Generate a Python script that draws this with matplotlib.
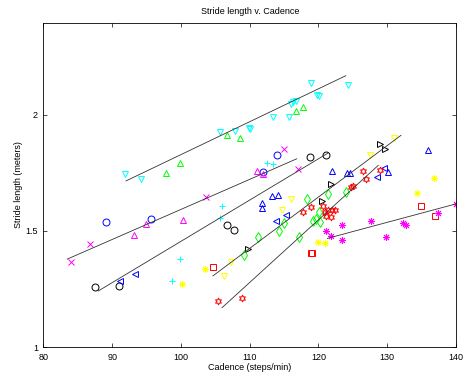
import numpy as np
import matplotlib
matplotlib.use('Agg')
import matplotlib.pyplot as plt

plt.rcParams['font.family'] = ['Liberation Sans', 'DejaVu Sans']

# each group: (color, marker, x values, y values)
cyan_v_x = [91.9, 94.18, 105.63, 107.81, 109.93, 110.04, 113.45, 115.68, 116.33, 116.73, 116.0, 118.91, 124.25, 119.74, 120.12]
cyan_v_y = [1.743, 1.723, 1.927, 1.928, 1.944, 1.937, 1.991, 1.991, 2.055, 2.058, 2.046, 2.135, 2.127, 2.084, 2.081]

green_up_x = [97.75, 99.85, 106.69, 108.54, 116.70, 117.82]
green_up_y = [1.750, 1.793, 1.911, 1.899, 2.015, 2.034]

magenta_x_x = [83.96, 86.81, 103.68, 115.05, 117.02]
magenta_x_y = [1.365, 1.444, 1.645, 1.851, 1.765]

blue_o_x = [89.05, 95.59, 111.97, 113.96]
blue_o_y = [1.537, 1.550, 1.755, 1.828]

magenta_up_x = [93.21, 94.91, 100.33, 111.10, 111.97]
magenta_up_y = [1.483, 1.530, 1.547, 1.756, 1.743]

black_o_x = [87.49, 90.94, 106.73, 107.71, 118.76, 121.05]
black_o_y = [1.259, 1.263, 1.526, 1.504, 1.816, 1.828]

blue_left_x = [91.17, 93.31, 113.86, 115.27, 128.55, 129.53]
blue_left_y = [1.286, 1.316, 1.544, 1.570, 1.733, 1.771]

cyan_plus_x = [98.73, 99.90, 105.63, 105.92, 112.47, 113.34]
cyan_plus_y = [1.285, 1.379, 1.557, 1.607, 1.791, 1.786]

yellow_star_x = [100.17, 103.53, 119.97, 120.90, 134.40, 136.87]
yellow_star_y = [1.270, 1.338, 1.454, 1.448, 1.663, 1.729]

yellow_v_x = [106.25, 107.23, 114.76, 116.0, 127.53, 130.98]
yellow_v_y = [1.305, 1.368, 1.592, 1.639, 1.828, 1.899]

black_right_x = [109.70, 120.51, 121.85, 128.95, 129.67]
black_right_y = [1.421, 1.628, 1.700, 1.874, 1.854]

blue_up_x = [111.81, 111.81, 113.24, 114.04, 121.96, 124.22, 124.63, 130.07, 135.97]
blue_up_y = [1.622, 1.599, 1.652, 1.654, 1.759, 1.750, 1.750, 1.753, 1.849]

green_d_x = [109.21, 111.20, 114.33, 115.05, 117.21, 118.40, 119.24, 119.59, 120.22, 120.12, 121.43, 123.96]
green_d_y = [1.397, 1.475, 1.501, 1.534, 1.473, 1.639, 1.543, 1.551, 1.540, 1.583, 1.657, 1.667]

red_hex_x = [105.43, 108.87, 117.79, 118.91, 120.70, 120.95, 121.43, 121.96, 122.47, 121.16, 121.89, 124.68, 125.09, 126.47, 126.91, 128.95]
red_hex_y = [1.198, 1.213, 1.581, 1.602, 1.609, 1.583, 1.589, 1.589, 1.590, 1.566, 1.562, 1.691, 1.693, 1.758, 1.723, 1.762]

red_sq_x = [104.61, 118.84, 119.05, 134.91, 136.97]
red_sq_y = [1.344, 1.404, 1.404, 1.607, 1.566]

magenta_star_x = [121.09, 121.82, 123.37, 123.37, 127.64, 129.82, 132.25, 132.68, 137.43, 140.0]
magenta_star_y = [1.500, 1.478, 1.526, 1.463, 1.544, 1.476, 1.533, 1.526, 1.576, 1.616]

# regression lines (start x, end x, start y, end y)
fit_x = [[92.0, 123.96], [83.46, 116.83], [87.97, 121.34], [104.65, 132.0], [105.96, 128.70], [121.28, 139.96]]
fit_y = [[1.715, 2.167], [1.379, 1.810], [1.242, 1.834], [1.307, 1.911], [1.170, 1.782], [1.468, 1.616]]

hexagram = (6, 1, 0)
asterisk = (8, 2, 0)

groups = [
    ('#00ffff', 'v', cyan_v_x, cyan_v_y),
    ('#00ff00', '^', green_up_x, green_up_y),
    ('#ff00ff', 'x', magenta_x_x, magenta_x_y),
    ('#0000ff', 'o', blue_o_x, blue_o_y),
    ('#ff00ff', '^', magenta_up_x, magenta_up_y),
    ('#000000', 'o', black_o_x, black_o_y),
    ('#0000ff', '<', blue_left_x, blue_left_y),
    ('#00ffff', '+', cyan_plus_x, cyan_plus_y),
    ('#ffff00', asterisk, yellow_star_x, yellow_star_y),
    ('#ffff00', 'v', yellow_v_x, yellow_v_y),
    ('#000000', '>', black_right_x, black_right_y),
    ('#0000ff', '^', blue_up_x, blue_up_y),
    ('#00ff00', 'd', green_d_x, green_d_y),
    ('#ff0000', hexagram, red_hex_x, red_hex_y),
    ('#ff0000', 's', red_sq_x, red_sq_y),
    ('#ff00ff', asterisk, magenta_star_x, magenta_star_y),
]

fig = plt.figure(figsize=(4.65, 3.74), dpi=100)
ax = fig.add_axes([0.0935, 0.0714, 0.8871, 0.8679])

for color, marker, xs, ys in groups:
    ax.plot(xs, ys, linestyle='none', marker=marker, markersize=5,
            markerfacecolor='none', markeredgecolor=color, markeredgewidth=0.7)

for xs, ys in zip(fit_x, fit_y):
    ax.plot(xs, ys, color='#333333', linewidth=0.6)

ax.set_xlim(80, 140)
ax.set_ylim(1, 2.395)
ax.set_xticks([80, 90, 100, 110, 120, 130, 140])
ax.set_yticks([1, 1.5, 2])
ax.set_yticklabels(['1', '1.5', '2'])
ax.tick_params(direction='in', top=True, right=True, labelsize=6.5, length=3, width=0.5)
ax.tick_params(axis='x', pad=4)
ax.tick_params(axis='y', pad=4)
for s in ax.spines.values():
    s.set_linewidth(0.6)

ax.set_title('Stride length v. Cadence', fontsize=6.5, pad=6)
ax.set_xlabel('Cadence (steps/min)', fontsize=6.5, labelpad=1)
ax.set_ylabel('Stride length (meters)', fontsize=6.5, labelpad=2)

fig.savefig('out.png', dpi=100)
